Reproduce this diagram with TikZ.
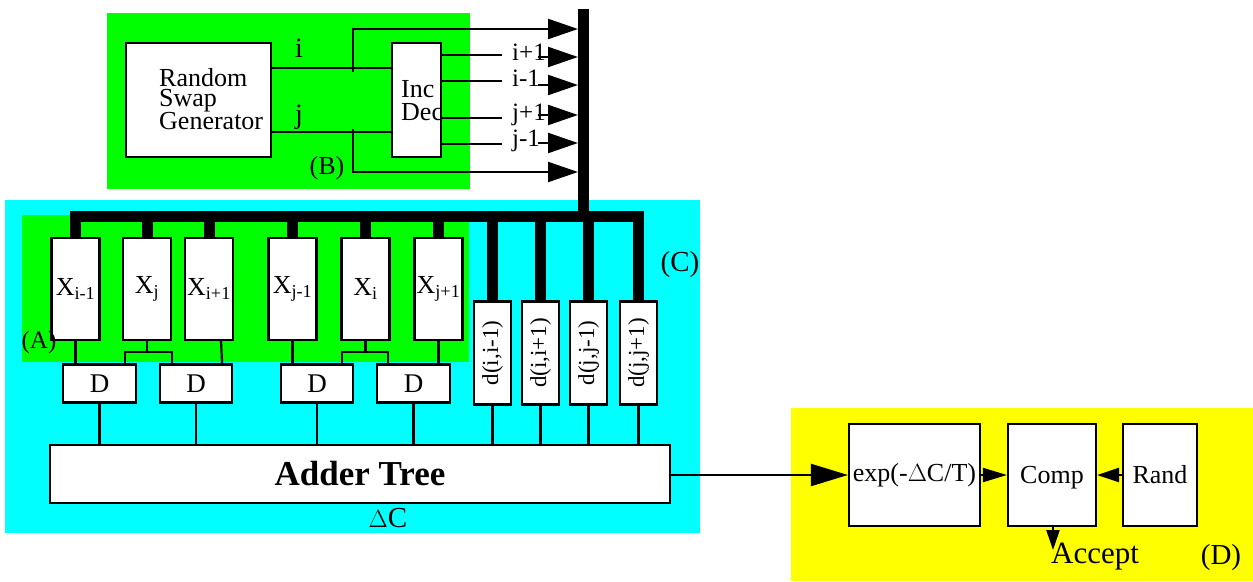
\documentclass[tikz,border=0pt]{standalone}
\usepackage{fontspec}
\setmainfont{Liberation Serif}
\usetikzlibrary{arrows.meta,calc}
\definecolor{grn}{RGB}{0,255,0}
\definecolor{cyn}{RGB}{0,255,255}
\definecolor{ylw}{RGB}{255,255,0}
\newcommand{\fs}[1]{\fontsize{#1}{#1}\selectfont}
\newcommand{\fsb}[2]{\fontsize{#1}{#2}\selectfont}
\begin{document}
\begin{tikzpicture}[x=1pt,y=-1pt,
  box/.style={draw, line width=2.2pt, fill=white, inner sep=0pt, font=\fs{26}},
  xbox/.style={box, minimum width=48, minimum height=102},
  dbox/.style={box, minimum width=73, minimum height=38, font=\fs{27}},
  rbox/.style={box, rotate=90, minimum width=103, minimum height=37, font=\fs{23}},
  wire/.style={line width=2.2pt},
  bus/.style={line width=11pt},
  bigarrow/.style={wire, -{Triangle[length=30pt,width=20pt]}},
  lbl/.style={inner sep=0pt, font=\fs{25}}
]
\useasboundingbox (0,0) rectangle (1253,581);
% background regions
\fill[grn] (107,13) rectangle (470,189);
\fill[cyn] (5,200) rectangle (700,533);
\fill[grn] (22,215) rectangle (469,362);
\fill[ylw] (791,408) rectangle (1253,581);

% region B
\node[box, minimum width=145, minimum height=114] (rsg) at (198.5,100) {};
\node[lbl, anchor=west, align=left, font=\fsb{26}{20}] (rsgt) at (159,99) {Random\\Swap\\Generator};
\node[box, minimum width=49, minimum height=114] (incdec) at (416.5,100) {};
\node[lbl, anchor=west, align=left, font=\fsb{26}{23}] (incdect) at (401,101) {Inc\\Dec};
\node[lbl, font=\fs{28}] (li) at (299,48) {i};
\node[lbl, font=\fs{28}] (lj) at (299,117) {j};
\node[lbl, font=\fs{26}] (lB) at (327,168) {(B)};

% main bus
\coordinate (bustop) at (583.5,9);
\coordinate (busy) at (0,216.5);
\coordinate (busx) at (578,0);

\draw[wire] (rsg.east |- 0,68) -- (incdec.west |- 0,68);
\draw[wire] (rsg.east |- 0,132) -- (incdec.west |- 0,132);
\draw[bigarrow] (353,72) |- (busx |- 0,29);
\draw[bigarrow] (353,129) |- (busx |- 0,172);

\foreach \y/\t/\n/\ya in {55/i+1/a/57, 81/i-1/b/85, 118/j+1/c/115, 144/j-1/d/143}{
  \draw[wire] (incdec.east |- 0,\y) -- (502,\y);
  \node[lbl, anchor=west] (out\n) at (512,\y-3) {\t};
  \draw[bigarrow] (538,\ya) -- (busx |- 0,\ya);
}

% X registers
\node[xbox] (Xim1) at (75.5,289) {X\textsubscript{i-1}};
\node[xbox] (Xj)   at (147,289) {X\textsubscript{j}};
\node[xbox] (Xip1) at (209,289) {X\textsubscript{i+1}};
\node[xbox] (Xjm1) at (292.5,289) {X\textsubscript{j-1}};
\node[xbox] (Xi)   at (365.5,289) {X\textsubscript{i}};
\node[xbox] (Xjp1) at (438.5,289) {X\textsubscript{j+1}};

% distance boxes
\node[rbox] (d1) at (492.5,353) {d(i,i-1)};
\node[rbox] (d2) at (540.5,353) {d(i,i+1)};
\node[rbox] (d3) at (588.5,353) {d(j,j-1)};
\node[rbox] (d4) at (638.5,353) {d(j,j+1)};

% buses
\draw[bus] (bustop) -- (bustop |- busy);
\draw[bus, line join=miter] (Xim1.north) -- (Xim1.north |- busy) -- (d4.east |- busy) -- (d4.east);
\foreach \n in {Xj,Xip1,Xjm1,Xi,Xjp1}{ \draw[bus] (\n.north |- busy) -- (\n.north); }
\foreach \n in {d1,d2,d3}{ \draw[bus] (\n.east |- busy) -- (\n.east); }

% D boxes
\node[dbox] (D1) at (99.5,383.5) {D};
\node[dbox, minimum width=72] (D2) at (196,383.5) {D};
\node[dbox, minimum width=72] (D3) at (317,383.5) {D};
\node[dbox] (D4) at (413.5,383.5) {D};

\draw[wire] (Xim1.south) -- (Xim1.south |- D1.north);
\draw[wire] (Xj.south) -- (Xj.south |- 0,352);
\draw[wire] ($(D1.north east)+(-12,0)$) |- (Xj.south |- 0,352) -| ($(D2.north west)+(13,0)$);
\draw[wire] ($(Xip1.south)+(12,0)$) -- ($(D2.north east)+(-11,0)$);
\draw[wire] (Xjm1.south) -- (Xjm1.south |- D3.north);
\draw[wire] (Xi.south) -- (Xi.south |- 0,352);
\draw[wire] ($(D3.north east)+(-12,0)$) |- (Xi.south |- 0,352) -| ($(D4.north west)+(12,0)$);
\draw[wire] (Xjp1.south) -- (Xjp1.south |- D4.north);

% adder tree
\node[box, minimum width=620, minimum height=58, font=\fs{35}\bfseries] (adder) at (360,474) {Adder Tree};
\foreach \n in {D1,D2,D3,D4}{ \draw[wire] (\n.south) -- (\n.south |- adder.north); }
\foreach \n in {d1,d2,d3,d4}{ \draw[wire] (\n.west) -- (\n.west |- adder.north); }

\node[lbl, font=\fs{29}] (dC) at (388,518) {$\Delta$C};
\node[lbl, font=\fs{29}] (lC) at (680,265) {(C)};
\node[lbl, font=\fs{25}] (lA) at (39,342) {(A)};

% region D
\node[box, minimum width=131, minimum height=102, font=\fs{26}] (exp) at (914.5,475) {exp(-$\Delta$C/T)};
\node[box, minimum width=88, minimum height=102, font=\fs{26}, text depth=0pt] (comp) at (1052,475) {Comp};
\node[box, minimum width=74, minimum height=102, font=\fs{26}] (rand) at (1160,475) {Rand};
\draw[wire, -{Triangle[length=37pt,width=22pt]}] (adder.east |- exp.west) -- (exp.west);
\draw[wire, -{Triangle[length=24pt,width=14pt]}] (exp.east) -- (comp.west);
\draw[wire, -{Triangle[length=22pt,width=14pt]}] (rand.west) -- (comp.east);
\coordinate (acc) at (1053,550);
\draw[wire, -{Triangle[length=20pt,width=13pt]}] (comp.south -| acc) -- (acc);
\node[lbl, anchor=west, font=\fs{31}] (laccept) at (1051,557) {Accept};
\node[lbl, font=\fs{29}] (lD) at (1221,558) {(D)};
\end{tikzpicture}
\end{document}
